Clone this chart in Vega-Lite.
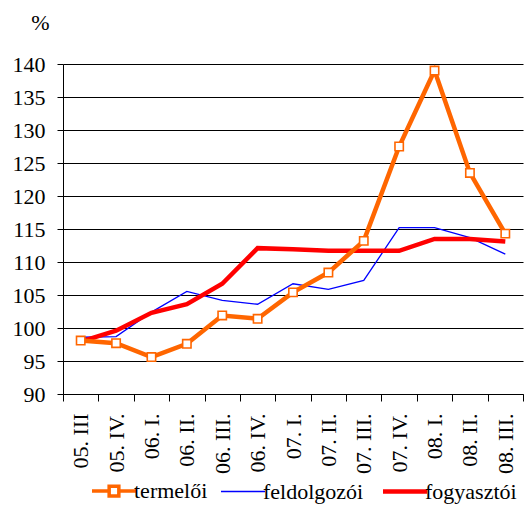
{
  "$schema": "https://vega.github.io/schema/vega-lite/v6.json",
  "width": 460,
  "height": 330,
  "autosize": {"type": "none"},
  "padding": {"left": 63, "top": 64, "right": 5, "bottom": 123},
  "background": "white",
  "config": {
    "view": {"stroke": null}
  },
  "data": {
    "values": [
      {"q": "05. III", "series": "termelői", "v": 98.1},
      {"q": "05. IV.", "series": "termelői", "v": 97.7},
      {"q": "06. I.", "series": "termelői", "v": 95.6},
      {"q": "06. II.", "series": "termelői", "v": 97.6},
      {"q": "06. III.", "series": "termelői", "v": 101.9},
      {"q": "06. IV.", "series": "termelői", "v": 101.4},
      {"q": "07. I.", "series": "termelői", "v": 105.4},
      {"q": "07. II.", "series": "termelői", "v": 108.4},
      {"q": "07. III.", "series": "termelői", "v": 113.2},
      {"q": "07. IV.", "series": "termelői", "v": 127.5},
      {"q": "08. I.", "series": "termelői", "v": 139.0},
      {"q": "08. II.", "series": "termelői", "v": 123.5},
      {"q": "08. III.", "series": "termelői", "v": 114.3},
      {"q": "05. III", "series": "feldolgozói", "v": 98.6},
      {"q": "05. IV.", "series": "feldolgozói", "v": 98.7},
      {"q": "06. I.", "series": "feldolgozói", "v": 102.4},
      {"q": "06. II.", "series": "feldolgozói", "v": 105.55},
      {"q": "06. III.", "series": "feldolgozói", "v": 104.2},
      {"q": "06. IV.", "series": "feldolgozói", "v": 103.6},
      {"q": "07. I.", "series": "feldolgozói", "v": 106.7},
      {"q": "07. II.", "series": "feldolgozói", "v": 105.85},
      {"q": "07. III.", "series": "feldolgozói", "v": 107.2},
      {"q": "07. IV.", "series": "feldolgozói", "v": 115.2},
      {"q": "08. I.", "series": "feldolgozói", "v": 115.2},
      {"q": "08. II.", "series": "feldolgozói", "v": 113.7},
      {"q": "08. III.", "series": "feldolgozói", "v": 111.2},
      {"q": "05. III", "series": "fogyasztói", "v": 97.95},
      {"q": "05. IV.", "series": "fogyasztói", "v": 99.6},
      {"q": "06. I.", "series": "fogyasztói", "v": 102.3},
      {"q": "06. II.", "series": "fogyasztói", "v": 103.6},
      {"q": "06. III.", "series": "fogyasztói", "v": 106.7},
      {"q": "06. IV.", "series": "fogyasztói", "v": 112.1},
      {"q": "07. I.", "series": "fogyasztói", "v": 111.95},
      {"q": "07. II.", "series": "fogyasztói", "v": 111.7},
      {"q": "07. III.", "series": "fogyasztói", "v": 111.7},
      {"q": "07. IV.", "series": "fogyasztói", "v": 111.7},
      {"q": "08. I.", "series": "fogyasztói", "v": 113.5},
      {"q": "08. II.", "series": "fogyasztói", "v": 113.5},
      {"q": "08. III.", "series": "fogyasztói", "v": 113.1}
    ]
  },
  "encoding": {
    "x": {
      "field": "q", "type": "ordinal", "sort": null,
      "scale": {"paddingInner": 0, "paddingOuter": 0},
      "axis": {
        "title": null, "labelAngle": -90, "labelAlign": "right", "labelBaseline": "middle",
        "labelFont": "Times New Roman", "labelColor": "black",
        "labelFontSize": 22, "labelPadding": 12, "tickBand": "extent", "tickSize": 7,
        "tickColor": "black", "domainColor": "black", "grid": false, "labelOverlap": false
      }
    },
    "y": {
      "field": "v", "type": "quantitative",
      "scale": {"domain": [90, 140], "nice": false, "zero": false},
      "axis": {
        "values": [90, 95, 100, 105, 110, 115, 120, 125, 130, 135, 140],
        "labelFont": "Times New Roman", "labelColor": "black",
        "labelFontSize": 22, "labelPadding": 12, "tickSize": 6, "tickColor": "black",
        "domainColor": "black", "gridColor": "#000000", "gridOpacity": 1, "gridWidth": 1.1,
        "title": "%", "titleFont": "Times New Roman", "titleColor": "black",
        "titleAngle": 0, "titleFontSize": 22, "titleFontWeight": "normal",
        "titleX": -23, "titleY": -42, "titleAlign": "center", "titleBaseline": "middle"
      }
    },
    "color": {
      "field": "series", "type": "nominal",
      "scale": {"domain": ["termelői", "feldolgozói", "fogyasztói"], "range": ["#FF6600", "#0000FF", "#FF0000"]},
      "legend": {
        "title": null, "orient": "none", "direction": "horizontal", "legendX": 40, "legendY": 416,
        "labelFont": "Times New Roman",
        "labelFontSize": 22, "labelColor": "black", "symbolType": "stroke", "symbolSize": 1936,
        "labelOffset": 9, "columnPadding": 10, "symbolFillColor": "white",
        "encode": {
          "symbols": {
            "update": {
              "shape": {"signal": "datum.value === 'termelői' ? 'M-1,0H-0.22M0.22,0H1M-0.22,-0.22H0.22V0.22H-0.22Z' : 'stroke'"},
              "strokeWidth": {"signal": "datum.value === 'feldolgozói' ? 1.5 : (datum.value === 'termelői' ? 3.5 : 4.5)"},
              "size": {"value": 1936},
              "fill": {"value": "white"},
              "fillOpacity": {"value": 1}
            }
          }
        }
      }
    }
  },
  "layer": [
    {"transform": [{"filter": "datum.series === 'feldolgozói'"}], "mark": {"type": "line", "strokeWidth": 1.3}},
    {"transform": [{"filter": "datum.series === 'fogyasztói'"}], "mark": {"type": "line", "strokeWidth": 4.5}},
    {"transform": [{"filter": "datum.series === 'termelői'"}], "mark": {"type": "line", "strokeWidth": 4.5}},
    {"transform": [{"filter": "datum.series === 'termelői'"}], "mark": {"type": "point", "shape": "square", "size": 70, "filled": false, "fill": "white", "fillOpacity": 1, "strokeWidth": 1.6, "opacity": 1}}
  ]
}
